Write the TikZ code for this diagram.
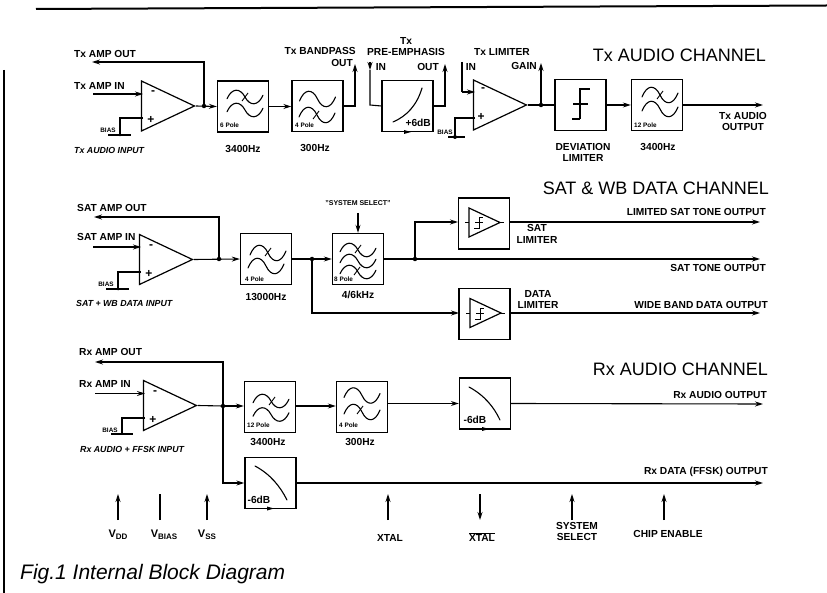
\documentclass[tikz,border=0pt]{standalone}
\usepackage{fontspec}
\setmainfont{Liberation Sans}
\usetikzlibrary{arrows.meta,shapes.geometric,calc}
\tikzset{
  x=1pt,y=-1pt,
  wire/.style={line width=1.1pt},
  sig/.style={line width=1.1pt,-{Stealth[length=8pt,width=5pt]}},
  blockbox/.style={draw,line width=1.4pt,minimum width=51pt,minimum height=51pt,inner sep=0pt},
  amp/.style={draw,line width=1.2pt,isosceles triangle,isosceles triangle stretches,inner sep=0pt,minimum width=50pt,minimum height=53pt,anchor=apex},
  lbl/.style={inner sep=0pt,font=\fontsize{10.2}{11.6}\selectfont\bfseries,align=center},
  lblr/.style={lbl,anchor=east,align=right},
  lbll/.style={lbl,anchor=west,align=left},
  sgn/.style={inner sep=0pt,font=\fontsize{12}{12}\selectfont\bfseries},
  tiny/.style={inner sep=0pt,font=\fontsize{6.4}{7}\selectfont\bfseries},
  tinyq/.style={inner sep=0pt,font=\fontsize{7}{8}\selectfont\bfseries},
  ital/.style={inner sep=0pt,anchor=west,font=\fontsize{8.8}{10}\selectfont\bfseries\itshape},
  hdr/.style={inner sep=0pt,anchor=east,font=\fontsize{18}{20}\selectfont},
  dotn/.style={circle,fill,inner sep=0pt,minimum size=4.5pt},
  curve/.style={line width=1.1pt,line cap=round},
}
% one sine wave across a filter box: centre x, centre y, amplitude
\newcommand{\sinewave}[3]{%
  \begin{scope}[shift={(#1,#2)},yscale=#3]
  \draw[curve] (-18,0.25) .. controls (-13,-1.33) and (-5,-1.33) .. (0,0) .. controls (5,1.33) and (13,1.33) .. (18,-0.25);
  \end{scope}}
\newcommand{\stoptick}[2]{\draw[line width=0.9pt] ($(#1,#2)+(-3,4)$) -- ($(#1,#2)+(3,-4)$);}
% small limiter triangle with its step inside: left x, centre y
\newcommand{\limamp}[2]{%
  \begin{scope}[shift={(#1,#2)}]
  \draw[line width=1.2pt] (0,-14.5) -- (31,0) -- (0,14.5) -- cycle;
  \draw[line width=0.8pt] (-4,0) -- (0,0) (31,0) -- (35,0);
  \draw[line width=0.9pt] (5,6) -- (10,6) -- (10,-5) -- (14,-5) (6,0) -- (14,0);
  \end{scope}}
\begin{document}
\begin{tikzpicture}
\useasboundingbox (0,0) rectangle (827,593);
% frame rules
\coordinate (rtl) at (36,9); \coordinate (rtr) at (827,5.5);
\coordinate (rvt) at (4,70); \coordinate (rvb) at (4,593);
\draw[line width=2pt] (rtl) -- (rtr);
\draw[line width=1.8pt] (rvt) -- (rvb);

% ---------- Tx channel ----------
\node[hdr] (htx) at (766,55) {Tx AUDIO CHANNEL};
\node[amp] (txa) at (196,106) {};
\coordinate (txaM) at (143,94); \coordinate (txaP) at (143,118);
\coordinate (txIn) at (93,94); \coordinate (txOut) at (92,62);
\node[dotn] (txd) at (204,106) {};
\node[blockbox] (tf1) at (243,106.5) {};
\node[blockbox] (tf2) at (317.5,106) {};
\node[blockbox] (tpe) at (407.5,106) {};
\node[amp] (txl) at (528,105) {};
\coordinate (txlM) at (475,92); \coordinate (txlP) at (475,118);
\node[dotn] (txg) at (541,105) {};
\node[blockbox] (tdv) at (580.5,105) {};
\node[blockbox] (tf3) at (657,105) {};
\coordinate (tbp) at (355,64); \coordinate (tbpc) at (355,105);
\coordinate (tpiT) at (370,62); \coordinate (tpi) at (370,70); \coordinate (tpic) at (370,105);
\coordinate (tpo) at (445,64); \coordinate (tpoc) at (445,105);
\coordinate (tli) at (462,62); \coordinate (tlic) at (462,92);
\coordinate (tgu) at (541,63);
\coordinate (txo) at (763,105);
\coordinate (tbn) at (120,135); \coordinate (tbnc) at (120,118);
\coordinate (tbL) at (108,135); \coordinate (tbR) at (131,135);
\coordinate (tlb) at (455,137); \coordinate (tlbc) at (455,118);
\coordinate (tlL) at (448,137); \coordinate (tlR) at (465,137);

\draw[sig] (txIn) -- (txaM);
\draw[sig] (txd.center) |- (txOut);
\draw[wire] (txaP) -- (tbnc) -- (tbn);
\draw[wire] (tbL) -- (tbR);
\draw[sig] (txa.apex) -- (tf1.west);
\draw[sig] (tf1.east) -- (tf2.west |- tf1.east);
\draw[sig] (tf2.east) -| (tbp);
\draw[wire] (tpe.west) -- (tpic) -- (tpi);
\draw[sig] (tpiT) -- (tpi);
\draw[sig] (tpe.east) -| (tpo);
\draw[wire] (tli) -- (tlic);
\draw[sig] (tlic) -- (txlM);
\draw[wire] (txlP) -- (tlbc) -- (tlb);
\draw[wire] (tlL) -- (tlR);
\draw[wire] (txl.apex) -- (tdv.west);
\draw[sig] (txg.center) -- (tgu);
\draw[sig] (tdv.east) -- (tf3.west);
\draw[sig] (tf3.east) -- (txo);
\fill (tbn) circle (1.5pt);
\fill (tlb) circle (2pt);
\fill (411,132) -- (404,130) -- (404,134) -- cycle;

\node[lbl,anchor=west] (a1) at (74,54) {Tx AMP OUT};
\node[lbl,anchor=west] (a2) at (74,86) {Tx AMP IN};
\node[sgn] (a3) at (153,93) {-};
\node[sgn] (a4) at (151,120) {+};
\node[tiny] (a5) at (108,130) {BIAS};
\node[ital] (a6) at (74,150) {Tx AUDIO INPUT};
\node[tiny,anchor=west] (a7) at (220,125) {6 Pole};
\node[lbl] (a8) at (243,149) {3400Hz};
\node[tiny,anchor=west] (a9) at (295,125) {4 Pole};
\node[lbl] (a10) at (315,148) {300Hz};
\node[lblr] (a11) at (356,51) {Tx BANDPASS};
\node[lblr] (a12) at (353,63) {OUT};
\node[lbl] (a13) at (406,41) {Tx};
\node[lbl] (a14) at (406,52) {PRE-EMPHASIS};
\node[lbl] (a15) at (381,67) {IN};
\node[lblr] (a16) at (439,67) {OUT};
\node[lbl,anchor=east] (a17) at (431,123) {+6dB};
\node[lbl] (a18) at (502,52) {Tx LIMITER};
\node[lbl] (a19) at (471,67) {IN};
\node[lblr] (a20) at (537,66) {GAIN};
\node[sgn] (a21) at (483,90) {-};
\node[sgn] (a22) at (481,117) {+};
\node[tiny] (a23) at (445,132) {BIAS};
\node[lbl] (a24) at (583,152.5) {DEVIATION\\LIMITER};
\node[tiny,anchor=west] (a25) at (634,125) {12 Pole};
\node[lbl] (a26) at (658,147) {3400Hz};
\node[lbl] (a27) at (743,121.5) {Tx AUDIO\\OUTPUT};

\sinewave{245}{97}{7}\sinewave{245}{110}{7}\stoptick{245}{97}
\sinewave{317.5}{99}{8}\sinewave{317}{115}{8}\stoptick{316}{115}
\draw[curve] (393,122) .. controls (407,116) and (417,105) .. (422,88);
\draw[line width=1.4pt] (580,119) -- (580,89) -- (590,89) (572,119) -- (580,119) (573,104) -- (588,104);
\sinewave{660}{95}{8}\sinewave{660}{109}{8}\stoptick{660}{95}

% ---------- SAT channel ----------
\node[hdr] (hsat) at (769,188) {SAT \& WB DATA CHANNEL};
\node[amp] (sa) at (194,259.5) {};
\coordinate (saM) at (141,247); \coordinate (saP) at (141,272);
\coordinate (saIn) at (93,247); \coordinate (saOut) at (94,217);
\node[dotn] (sd) at (219,259) {};
\node[blockbox] (sf1) at (266,259) {};
\node[dotn] (sd2) at (312,259) {};
\node[blockbox] (sf2) at (358,259) {};
\node[dotn] (sd3) at (415,259) {};
\node[blockbox] (sl1) at (484,223.5) {};
\node[blockbox] (sl2) at (484.5,314) {};
\coordinate (ss) at (358,213);
\coordinate (so1) at (760,222); \coordinate (so2) at (760,259); \coordinate (so3) at (760,313);
\coordinate (sbn) at (118,289); \coordinate (sbnc) at (118,272);
\coordinate (sbL) at (106,289); \coordinate (sbR) at (129,289);
\coordinate (s1i) at (458,222); \coordinate (s2i) at (459,313);
\coordinate (s1o) at (509.5,222); \coordinate (s2o) at (510,313);

\draw[sig] (saIn) -- (saM);
\draw[sig] (sd.center) |- (saOut);
\draw[wire] (saP) -- (sbnc) -- (sbn);
\draw[wire] (sbL) -- (sbR);
\draw[sig] (sa.apex) -- (sf1.west);
\draw[sig] (sf1.east) -- (sf2.west);
\draw[sig] (ss) -- (sf2.north);
\draw[wire] (sf2.east) -- (sd3.center);
\draw[sig] (sd3.center) |- (s1i);
\draw[sig] (sd3.center) -- (so2);
\draw[sig] (sd2.center) |- (s2i);
\draw[sig] (s1o) -- (so1);
\draw[sig] (s2o) -- (so3);
\fill (sbn) circle (1.5pt);

\node[lbl,anchor=west] (b1) at (77,208) {SAT AMP OUT};
\node[lbl,anchor=west] (b2) at (77,237) {SAT AMP IN};
\node[sgn] (b3) at (151,247) {-};
\node[sgn] (b4) at (149,274) {+};
\node[tiny] (b5) at (106,284) {BIAS};
\node[ital] (b6) at (76,303) {SAT + WB DATA INPUT};
\node[tiny,anchor=west] (b7) at (245,279) {4 Pole};
\node[lbl] (b8) at (266,297) {13000Hz};
\node[tinyq] (b9) at (358,203) {"SYSTEM SELECT"};
\node[tiny,anchor=west] (b10) at (334,279) {8 Pole};
\node[lbl] (b11) at (358,295) {4/6kHz};
\node[lblr] (b12) at (766,212) {LIMITED SAT TONE OUTPUT};
\node[lbl] (b13) at (537,234) {SAT\\LIMITER};
\node[lblr] (b14) at (766,268) {SAT TONE OUTPUT};
\node[lbl] (b15) at (538,299.5) {DATA\\LIMITER};
\node[lblr] (b16) at (768,305) {WIDE BAND DATA OUTPUT};

\sinewave{268}{253}{8}\sinewave{266}{266}{8}\stoptick{268}{252}
\sinewave{358}{250}{7}\sinewave{358}{261}{7}\sinewave{358}{272}{7}\stoptick{358}{249}\stoptick{357}{271}
\limamp{469}{222.5}
\limamp{470}{313}

% ---------- Rx channel ----------
\node[hdr] (hrx) at (768,369) {Rx AUDIO CHANNEL};
\node[amp] (ra) at (198,405.5) {};
\coordinate (raM) at (145,393.5); \coordinate (raP) at (145,418);
\coordinate (raIn) at (95,393.5); \coordinate (raOut) at (95,362);
\node[dotn] (rd) at (223,406) {};
\node[blockbox] (rf1) at (270,407) {};
\node[blockbox] (rf2) at (362,407) {};
\node[blockbox] (rd1) at (485,403.5) {};
\node[blockbox] (rd2) at (270.5,483) {};
\coordinate (rbn) at (122,434); \coordinate (rbnc) at (122,418);
\coordinate (rbL) at (111,434); \coordinate (rbR) at (133,434);
\coordinate (roa) at (763,404); \coordinate (rod) at (763,483);
\coordinate (rc) at (223,483);

\draw[sig] (raIn) -- (raM);
\draw[sig] (rd.center) |- (raOut);
\draw[wire] (raP) -- (rbnc) -- (rbn);
\draw[wire] (rbL) -- (rbR);
\draw[wire] (ra.apex) -- (rd.center);
\draw[sig] (rd.center) -- (rf1.west |- rd.center);
\draw[sig] (rd.center) -- (rc) -- (rd2.west);
\draw[sig] (rf1.east |- rd.center) -- (rf2.west |- rd.center);
\draw[sig] (rf2.east |- rd1.east) -- (rd1.west);
\draw[sig] (rd1.east) -- (roa);
\draw[sig] (rd2.east) -- (rod);
\fill (489,429) -- (482,427) -- (482,431) -- cycle;
\fill (274,508.5) -- (267,506.5) -- (267,510.5) -- cycle;

\node[lbl,anchor=west] (c1) at (79,352) {Rx AMP OUT};
\node[lbl,anchor=west] (c2) at (79,384) {Rx AMP IN};
\node[sgn] (c3) at (155,393) {-};
\node[sgn] (c4) at (153,420) {+};
\node[tiny] (c5) at (110,430) {BIAS};
\node[ital] (c6) at (80,449) {Rx AUDIO + FFSK INPUT};
\node[tiny,anchor=west] (c7) at (247,425) {12 Pole};
\node[lbl] (c8) at (268,442) {3400Hz};
\node[tiny,anchor=west] (c9) at (339,425) {4 Pole};
\node[lbl] (c10) at (360,442) {300Hz};
\node[lbl] (c11) at (475,420) {-6dB};
\node[lbl] (c12) at (259,500) {-6dB};
\node[lblr] (c13) at (767,395) {Rx AUDIO OUTPUT};
\node[lblr] (c14) at (768,472) {Rx DATA (FFSK) OUTPUT};

\sinewave{271}{401}{7}\sinewave{271}{414.5}{7}\stoptick{272}{401}
\sinewave{362}{395.5}{8}\sinewave{362}{412}{8}\stoptick{360}{410}
\draw[curve] (469,387) .. controls (484,395) and (494,407) .. (500,420);
\draw[curve] (255,466) .. controls (270,474) and (280,486) .. (287,500);

% ---------- pins ----------
\foreach \nm/\xx in {pvdd/118,pvbi/160,pvss/207,pxt/388,pxb/480,pss/572,pce/664}{
  \coordinate (\nm A) at (\xx,520); \coordinate (\nm B) at (\xx,494);}
\draw[sig] (pvddA) -- (pvddB);
\draw[wire] (pvbiA) -- (pvbiB);
\draw[sig] (pvssA) -- (pvssB);
\draw[sig] (pxtA) -- (pxtB);
\draw[sig] (pxbB) -- (pxbA);
\draw[sig] (pssA) -- (pssB);
\draw[sig] (pceA) -- (pceB);

\node[inner sep=0pt,font=\fontsize{11}{12}\selectfont\bfseries] (d1) at (118,535) {V\raisebox{-2pt}{\fontsize{8}{9}\selectfont DD}};
\node[inner sep=0pt,font=\fontsize{11}{12}\selectfont\bfseries] (d2) at (164,535) {V\raisebox{-2pt}{\fontsize{8}{9}\selectfont BIAS}};
\node[inner sep=0pt,font=\fontsize{11}{12}\selectfont\bfseries] (d3) at (207,535) {V\raisebox{-2pt}{\fontsize{8}{9}\selectfont SS}};
\node[lbl] (d4) at (390,538) {XTAL};
\node[lbl] (d5) at (482,537) {$\overline{\mbox{XTAL}}$};
\node[lbl] (d6) at (577,531.5) {SYSTEM\\SELECT};
\node[lbl] (d7) at (668,534) {CHIP ENABLE};
\node[inner sep=0pt,anchor=west,font=\fontsize{21}{23}\selectfont\itshape] (fig) at (20,574) {Fig.1 Internal Block Diagram};
\end{tikzpicture}
\end{document}
